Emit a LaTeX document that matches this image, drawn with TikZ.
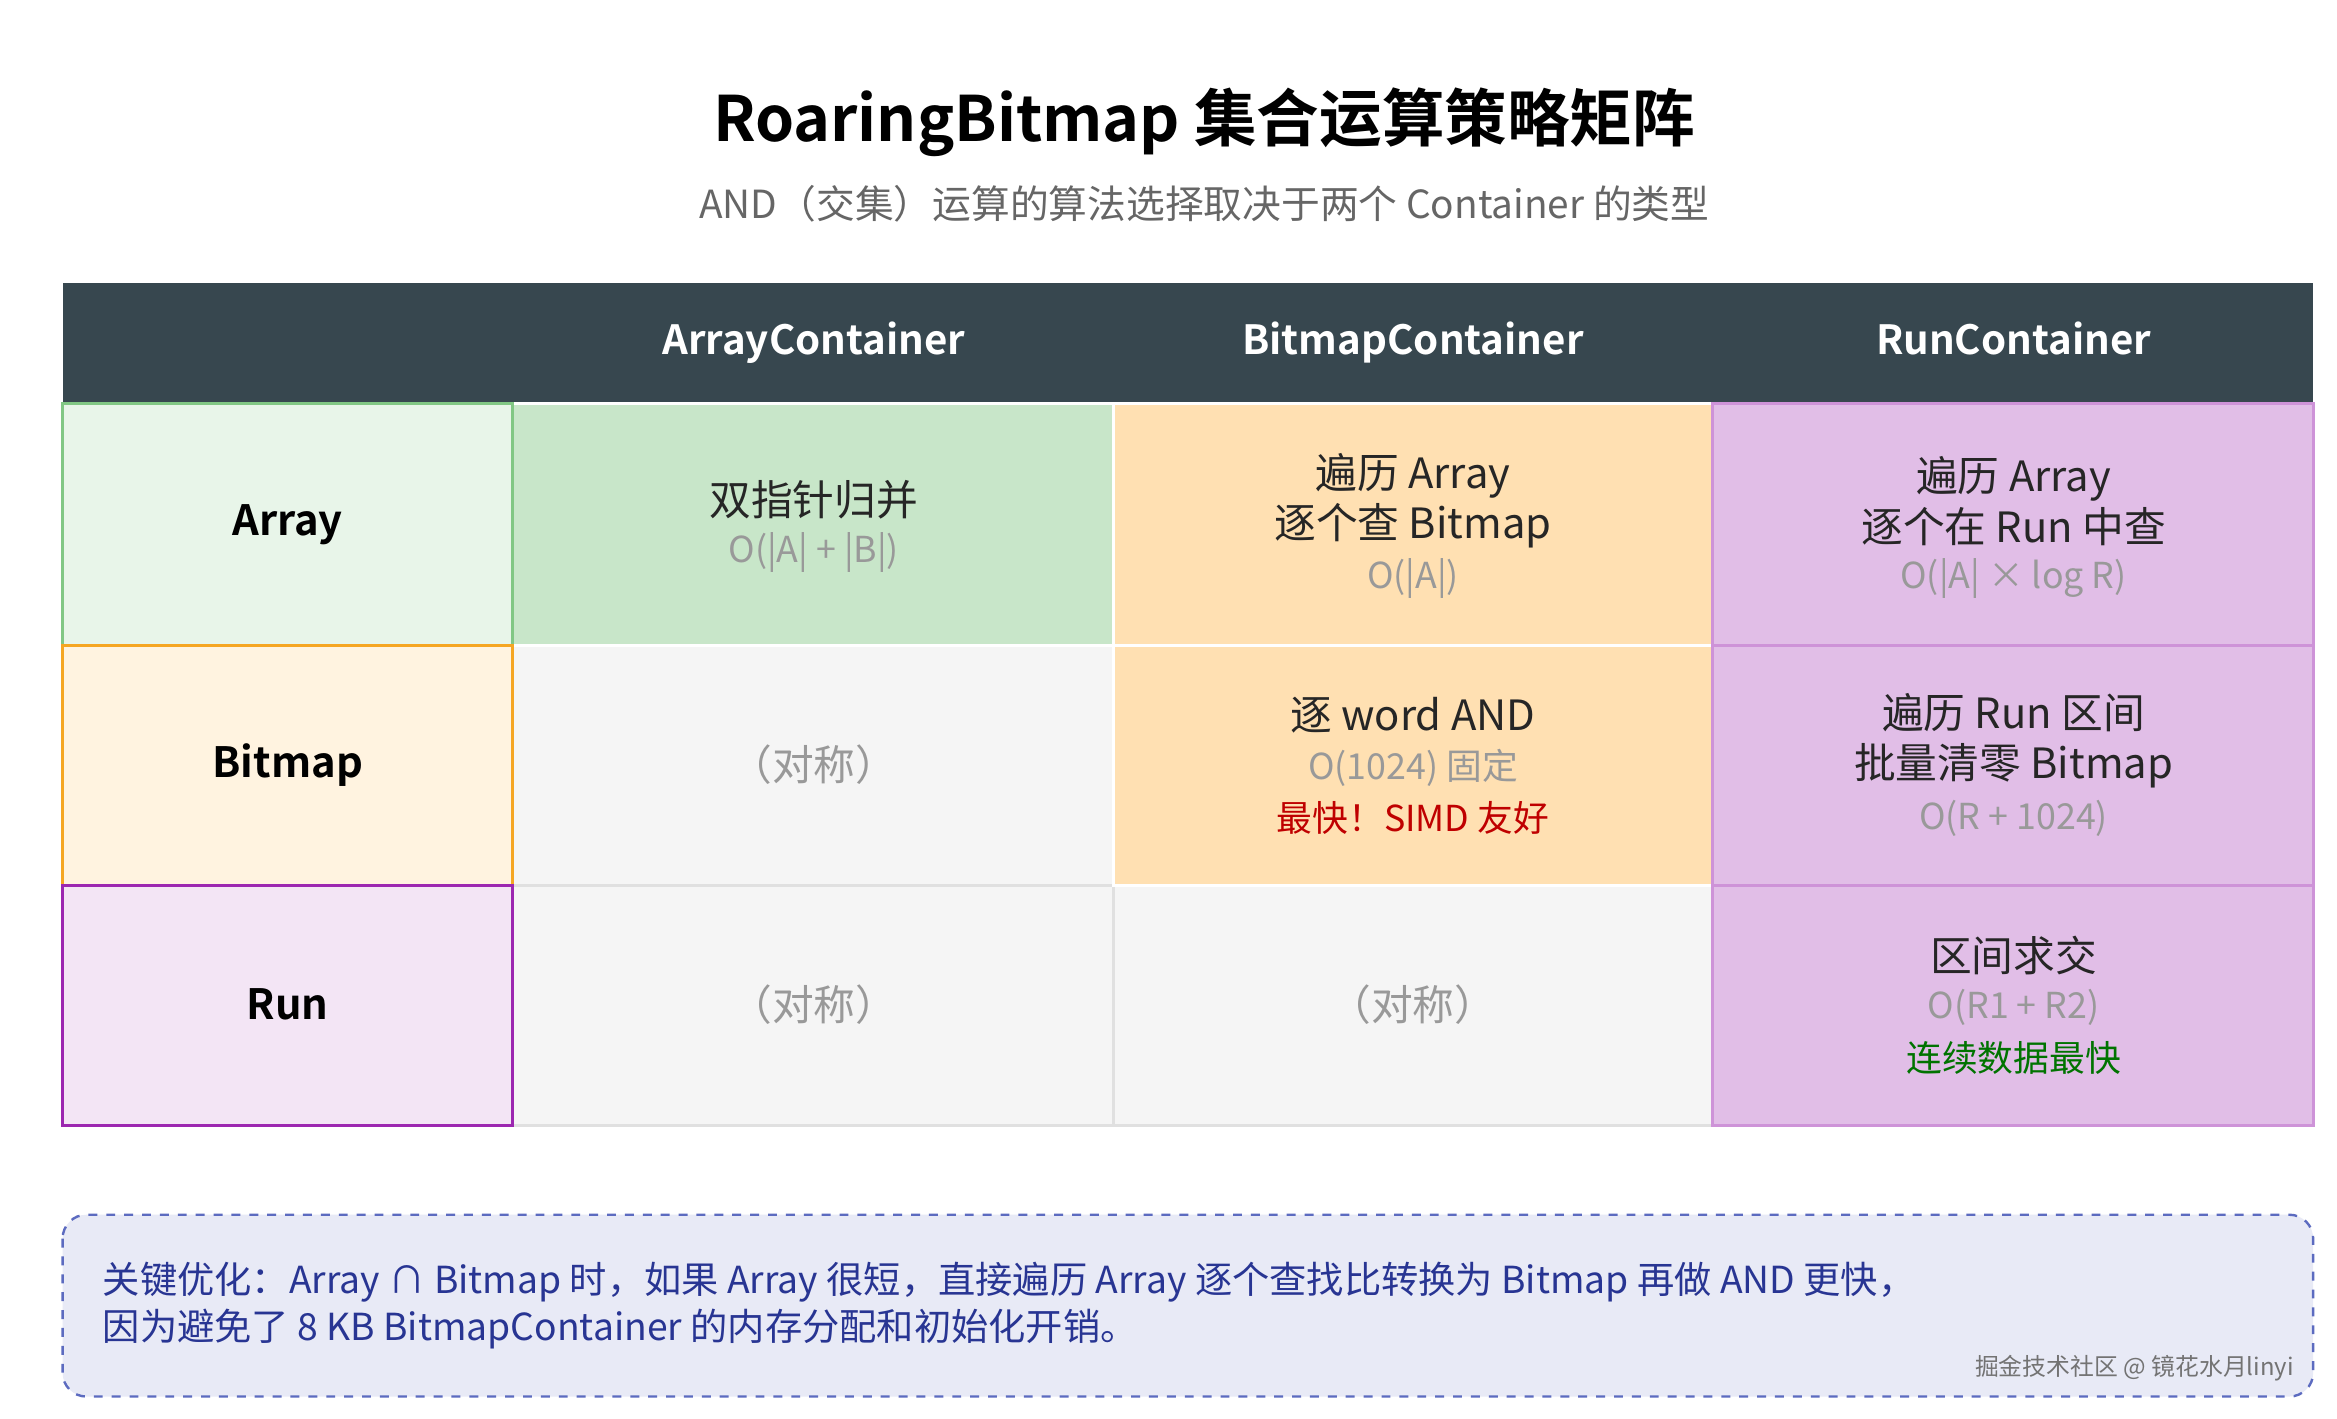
\documentclass[tikz,border=0pt]{standalone}
\usepackage{fontspec}
\setmainfont{Noto Sans CJK SC}
\newfontfamily\cjkb{Noto Sans CJK SC Bold}
\begin{document}
\begin{tikzpicture}[x=0.5pt,y=-0.5pt,
  cell/.style={draw=#1,line width=1pt},
  mt/.style={font=\fontsize{14}{17}\selectfont,align=center,text=black!85},
  gt/.style={text=black!40,font=\fontsize{12}{15}\selectfont},
  lab/.style={font=\cjkb\fontsize{14}{17}\selectfont},
  hd/.style={font=\cjkb\fontsize{13.5}{16}\selectfont,text=white,text height=10pt,text depth=3pt}]
\definecolor{hdr}{HTML}{37474F}
\definecolor{gA}{HTML}{C8E6C9}\definecolor{gL}{HTML}{E8F5E9}\definecolor{gB}{HTML}{81C784}
\definecolor{oA}{HTML}{FFE0B2}\definecolor{oL}{HTML}{FFF3E0}\definecolor{oB}{HTML}{F5A623}
\definecolor{pA}{HTML}{E1BEE7}\definecolor{pL}{HTML}{F3E5F5}\definecolor{pB}{HTML}{9C27B0}\definecolor{pC}{HTML}{CE93D8}
\definecolor{gr}{HTML}{F5F5F5}\definecolor{grB}{HTML}{E0E0E0}
\definecolor{nb}{HTML}{E8EAF6}\definecolor{nbB}{HTML}{5C6BC0}\definecolor{nt}{HTML}{283593}
\useasboundingbox (0,0) rectangle (1568,952);
\fill[white] (0,0) rectangle (1568,952);
\node[font=\cjkb\fontsize{21}{25}\selectfont] (title) at (808,82) {RoaringBitmap 集合运算策略矩阵};
\node[font=\fontsize{13}{16}\selectfont,text=black!60] (sub) at (808,137) {AND（交集）运算的算法选择取决于两个 Container 的类型};
% header
\fill[hdr] (42,190) rectangle (1552,271);
\node[hd] (h1) at (546,231) {ArrayContainer};
\node[hd] (h2) at (948,231) {BitmapContainer};
\node[hd] (h3) at (1351,231) {RunContainer};
% gray cells
\foreach \x/\y in {344/433,344/594,747/594}{\draw[cell=grB,fill=gr] (\x,\y) rectangle ++(403,161);}
\draw[cell=white,fill=gA] (344,271) rectangle (747,433);
\draw[cell=white,fill=oA] (747,271) rectangle (1149,433);
\draw[cell=white,fill=oA] (747,433) rectangle (1149,594);
\draw[cell=pC,fill=pA] (1149,271) rectangle (1552,433);
\draw[cell=pC,fill=pA] (1149,433) rectangle (1552,594);
\draw[cell=pC,fill=pA] (1149,594) rectangle (1552,755);
% row labels
\draw[cell=gB,fill=gL] (42,271) rectangle (344,433);
\draw[cell=oB,fill=oL] (42,433) rectangle (344,594);
\draw[cell=pB,fill=pL] (42,594) rectangle (344,755);
\node[lab] (r1) at (193,352) {Array};
\node[lab] (r2) at (193,513) {Bitmap};
\node[lab] (r3) at (193,674) {Run};
% cell texts
\node[mt] (c11) at (546,335) {双指针归并};
\node[gt] (c11b) at (546,371) {O(|A| + |B|)};
\node[mt] (c12) at (948,336) {遍历 Array\\逐个查 Bitmap};
\node[gt] (c12b) at (948,388) {O(|A|)};
\node[mt] (c13) at (1351,336) {遍历 Array\\逐个在 Run 中查};
\node[gt] (c13b) at (1351,388) {O(|A| × log R)};
\node[gt,font=\fontsize{14}{17}\selectfont] (c21) at (546,513) {（对称）};
\node[mt] (c22) at (948,480) {逐 word AND};
\node[gt] (c22b) at (948,515) {O(1024) 固定};
\node[text=red!75!black,font=\fontsize{12}{15}\selectfont] (c22c) at (948,549) {最快！SIMD 友好};
\node[mt] (c23) at (1351,497) {遍历 Run 区间\\批量清零 Bitmap};
\node[gt] (c23b) at (1351,549) {O(R + 1024)};
\node[gt,font=\fontsize{14}{17}\selectfont] (c31) at (546,674) {（对称）};
\node[gt,font=\fontsize{14}{17}\selectfont] (c32) at (948,674) {（对称）};
\node[mt] (c33) at (1351,641) {区间求交};
\node[gt] (c33b) at (1351,676) {O(R1 + R2)};
\node[text=green!45!black,font=\fontsize{12}{15}\selectfont] (c33c) at (1351,710) {连续数据最快};
% note
\draw[nbB,fill=nb,dashed,line width=0.8pt,rounded corners=8pt] (42,815) rectangle (1552,937);
\node[anchor=west,align=left,text=nt,font=\fontsize{12.5}{15.5}\selectfont] (note) at (62,876) {关键优化：Array ∩ Bitmap 时，如果 Array 很短，直接遍历 Array 逐个查找比转换为 Bitmap 再做 AND 更快，\\因为避免了 8 KB BitmapContainer 的内存分配和初始化开销。};
\node[anchor=east,text=black!55,font=\fontsize{8}{10}\selectfont] (wm) at (1546,918) {掘金技术社区 @ 镜花水月linyi};
\end{tikzpicture}
\end{document}
